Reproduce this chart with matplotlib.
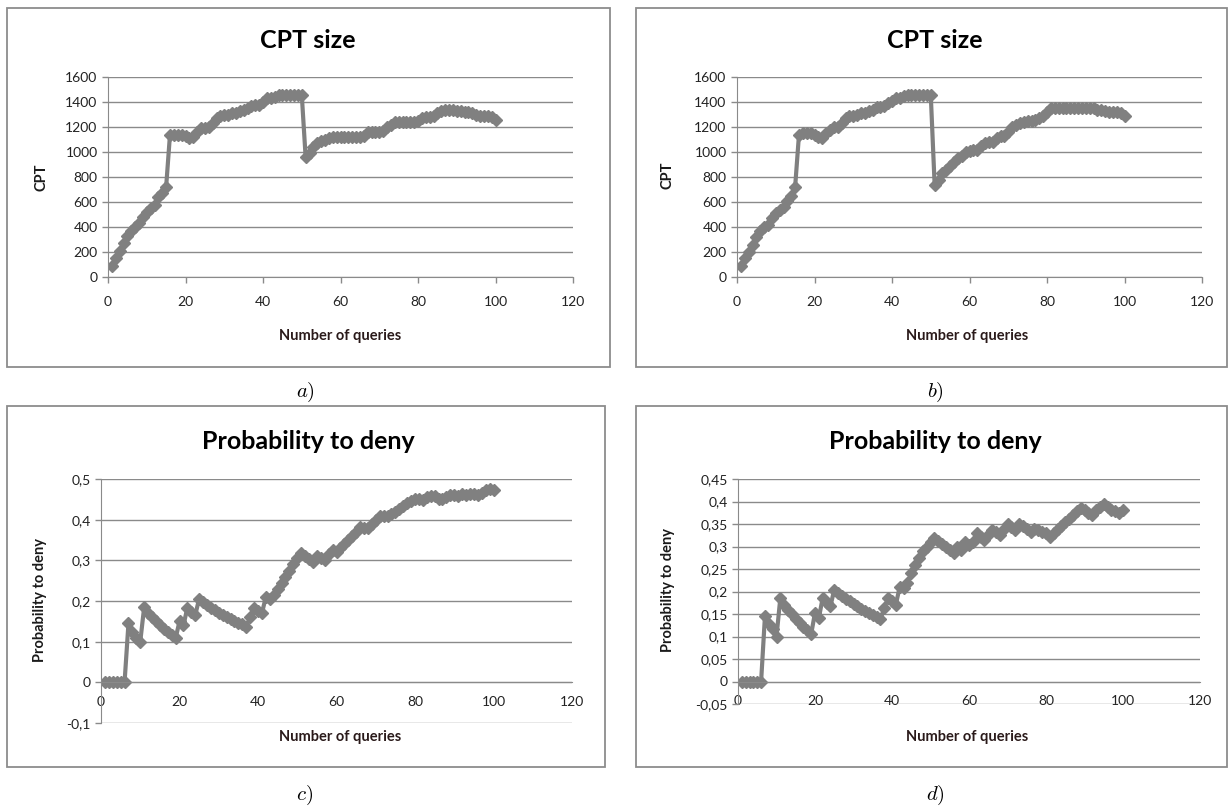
import matplotlib
matplotlib.use("Agg")
import matplotlib.pyplot as plt
import numpy as np
from matplotlib.patches import Rectangle
from matplotlib.ticker import FuncFormatter

plt.rcParams['font.family'] = ['Lato', 'DejaVu Sans']
plt.rcParams['mathtext.fontset'] = 'cm'

queries = list(range(1, 101))

# CPT size, panel a)
cpt_a = [90, 150, 210, 270, 330, 370, 400, 430, 480, 520,
         550, 580, 640, 670, 720, 1140, 1140, 1140, 1140, 1130,
         1110, 1120, 1160, 1190, 1190, 1200, 1230, 1270, 1290, 1300,
         1300, 1310, 1310, 1330, 1340, 1350, 1370, 1380, 1380, 1400,
         1430, 1430, 1440, 1460, 1460, 1460, 1460, 1460, 1460, 1460,
         960, 990, 1040, 1070, 1090, 1100, 1110, 1120, 1120, 1120,
         1120, 1120, 1120, 1120, 1120, 1130, 1160, 1160, 1160, 1160,
         1170, 1200, 1220, 1240, 1240, 1240, 1240, 1240, 1240, 1250,
         1270, 1280, 1280, 1290, 1310, 1330, 1340, 1340, 1340, 1330,
         1330, 1320, 1320, 1310, 1300, 1290, 1290, 1290, 1280, 1260]

# CPT size, panel b)
cpt_b = [90, 150, 200, 260, 320, 370, 400, 420, 470, 510,
         540, 560, 610, 650, 720, 1140, 1150, 1150, 1150, 1140,
         1120, 1110, 1150, 1180, 1200, 1200, 1230, 1270, 1290, 1290,
         1300, 1310, 1310, 1330, 1340, 1360, 1360, 1370, 1390, 1410,
         1430, 1430, 1450, 1460, 1460, 1460, 1460, 1460, 1460, 1460,
         740, 780, 830, 860, 890, 920, 950, 970, 1000, 1010,
         1020, 1020, 1050, 1070, 1080, 1080, 1110, 1130, 1130, 1160,
         1200, 1220, 1230, 1240, 1250, 1250, 1260, 1270, 1290, 1320,
         1350, 1350, 1350, 1350, 1350, 1350, 1350, 1350, 1350, 1350,
         1350, 1350, 1340, 1340, 1330, 1320, 1320, 1320, 1310, 1290]

# Probability to deny, panel c)
deny_c = [0, 0, 0, 0, 0, 0, 0.145, 0.125, 0.11, 0.10,
          0.185, 0.17, 0.16, 0.15, 0.14, 0.13, 0.123, 0.116, 0.108, 0.15,
          0.14, 0.183, 0.172, 0.165, 0.205, 0.197, 0.19, 0.183, 0.177, 0.171,
          0.166, 0.161, 0.156, 0.151, 0.147, 0.143, 0.137, 0.16, 0.183, 0.175,
          0.17, 0.21, 0.205, 0.215, 0.23, 0.245, 0.26, 0.275, 0.29, 0.305,
          0.318, 0.31, 0.303, 0.297, 0.31, 0.305, 0.30, 0.315, 0.325, 0.32,
          0.33, 0.34, 0.35, 0.36, 0.37, 0.382, 0.38, 0.38, 0.39, 0.40,
          0.41, 0.408, 0.408, 0.413, 0.42, 0.427, 0.433, 0.44, 0.445, 0.45,
          0.45, 0.448, 0.455, 0.458, 0.457, 0.452, 0.45, 0.455, 0.46, 0.46,
          0.458, 0.462, 0.46, 0.462, 0.462, 0.46, 0.465, 0.472, 0.475, 0.472]

# Probability to deny, panel d)
deny_d = [0, 0, 0, 0, 0, 0, 0.145, 0.127, 0.116, 0.10,
          0.186, 0.171, 0.16, 0.149, 0.139, 0.13, 0.122, 0.114, 0.105, 0.153,
          0.141, 0.186, 0.175, 0.167, 0.204, 0.197, 0.19, 0.184, 0.178, 0.172,
          0.167, 0.162, 0.157, 0.152, 0.147, 0.143, 0.138, 0.164, 0.186, 0.178,
          0.171, 0.21, 0.208, 0.219, 0.241, 0.26, 0.274, 0.289, 0.30, 0.311,
          0.318, 0.312, 0.306, 0.30, 0.293, 0.286, 0.30, 0.293, 0.311, 0.304,
          0.311, 0.329, 0.322, 0.315, 0.326, 0.337, 0.333, 0.326, 0.34, 0.351,
          0.344, 0.337, 0.351, 0.345, 0.34, 0.333, 0.34, 0.337, 0.333, 0.329,
          0.322, 0.33, 0.338, 0.346, 0.354, 0.362, 0.37, 0.378, 0.386, 0.381,
          0.375, 0.37, 0.381, 0.388, 0.394, 0.388, 0.382, 0.38, 0.375, 0.382]

W, H = 1229, 808
fig = plt.figure(figsize=(W / 100, H / 100), dpi=100)

GRAY = '#808080'
GRID = '#8a8a8a'
TXT = '#222222'


def fx(px):
    return px / W


def fy(py):
    return 1 - py / H


def comma(v, pos):
    s = '%g' % round(v, 3)
    return s.replace('.', ',')


def frame(x0, y0, x1, y1):
    fig.patches.append(Rectangle((fx(x0), fy(y1)), fx(x1 - x0), (y1 - y0) / H,
                                 transform=fig.transFigure, fill=False,
                                 edgecolor='#8c8c8c', lw=1.3))


def panel(box, ys, ylim, ystep, title, ylabel, cx, title_y, xlab_y, ylab_x, ylab_y, cross_zero):
    l, r, t, b = box
    ax = fig.add_axes([fx(l), fy(b), (r - l) / W, (b - t) / H])
    ax.plot(queries, ys, color=GRAY, lw=3, marker='D', ms=6.5, mec=GRAY, mfc=GRAY)
    ax.set_xlim(0, 120)
    ax.set_ylim(*ylim)
    ax.set_xticks(np.arange(0, 121, 20))
    ax.set_yticks(np.arange(ylim[0], ylim[1] + ystep / 2, ystep))
    ax.yaxis.set_major_formatter(FuncFormatter(comma))
    ax.grid(axis='y', color=GRID, lw=1)
    ax.set_axisbelow(True)
    for s in ['top', 'right']:
        ax.spines[s].set_visible(False)
    ax.spines['left'].set_color(GRID)
    ax.spines['bottom'].set_color(GRID)
    ax.tick_params(axis='y', colors=GRID, labelcolor=TXT, labelsize=10, length=4, width=1)
    if cross_zero:
        ax.spines['bottom'].set_position(('data', 0))
        ax.tick_params(axis='x', length=0, labelcolor=TXT, labelsize=10, pad=10)
    else:
        ax.tick_params(axis='x', colors=GRID, labelcolor=TXT, labelsize=10, length=4, width=1, pad=10)
    fig.text(fx(cx), fy(title_y), title, ha='center', va='center',
             fontsize=18, fontweight='bold', color='black')
    fig.text(fx(cx + 32), fy(xlab_y), 'Number of queries', ha='center', va='center',
             fontsize=10.5, fontweight='bold', color='#2a1a1a')
    fig.text(fx(ylab_x), fy(ylab_y), ylabel, ha='center', va='center', rotation=90,
             fontsize=10.5, fontweight='bold', color='#1a1a1a')
    return ax


frame(7, 8, 610, 367)
frame(636, 8, 1227, 367)
frame(7, 406, 605, 767)
frame(636, 406, 1227, 767)

panel((108, 573, 77, 277), cpt_a, (0, 1600), 200, 'CPT size', 'CPT',
      308, 40, 336, 41, 177, False)
panel((737, 1202, 77, 277), cpt_b, (0, 1600), 200, 'CPT size', 'CPT',
      935, 40, 336, 668, 175, False)
panel((101, 572, 479, 723), deny_c, (-0.1, 0.5), 0.1, 'Probability to deny', 'Probability to deny',
      308, 441, 737, 40, 600, True)
panel((738, 1200, 479, 704), deny_d, (-0.05, 0.45), 0.05, 'Probability to deny', 'Probability to deny',
      935, 441, 737, 668, 590, True)

for lab, x, y in [('a', 305, 392), ('b', 935, 392), ('c', 305, 795), ('d', 935, 795)]:
    fig.text(fx(x), fy(y), '$%s)$' % lab, ha='center', va='center', fontsize=15)

fig.savefig('out.png', dpi=100, facecolor='white')
